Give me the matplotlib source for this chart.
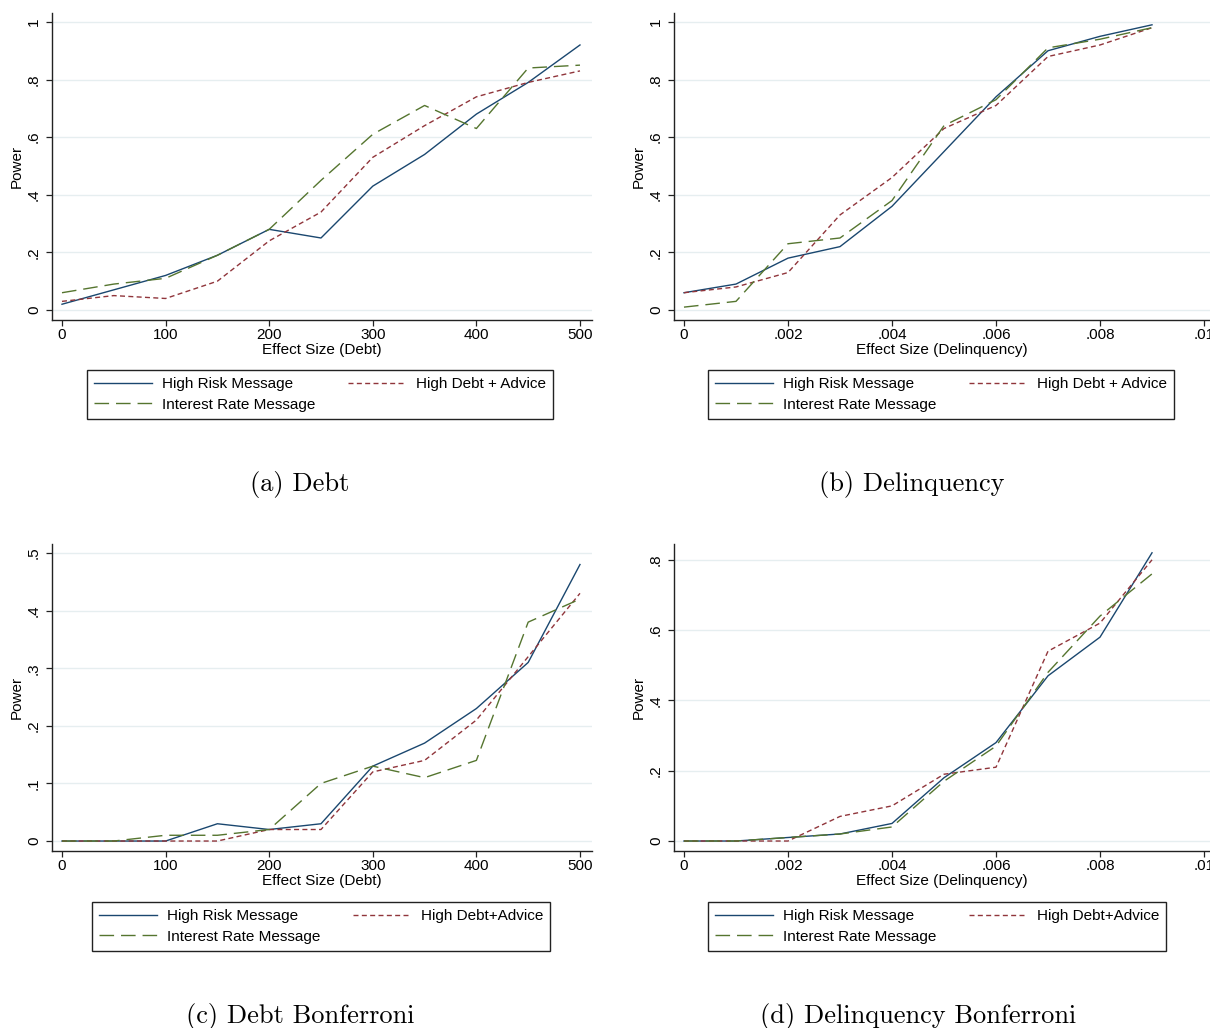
import matplotlib
matplotlib.use("Agg")
import matplotlib.pyplot as plt

# effect sizes
debt_x = [0, 50, 100, 150, 200, 250, 300, 350, 400, 450, 500]
delinq_x = [0, 0.001, 0.002, 0.003, 0.004, 0.005, 0.006, 0.007, 0.008, 0.009]

# (a) Debt
debt_risk = [0.02, 0.07, 0.12, 0.19, 0.28, 0.25, 0.43, 0.54, 0.68, 0.79, 0.92]
debt_advice = [0.03, 0.05, 0.04, 0.10, 0.24, 0.34, 0.53, 0.64, 0.74, 0.79, 0.83]
debt_rate = [0.06, 0.09, 0.11, 0.19, 0.28, 0.45, 0.61, 0.71, 0.63, 0.84, 0.85]

# (b) Delinquency
delinq_risk = [0.06, 0.09, 0.18, 0.22, 0.36, 0.55, 0.74, 0.90, 0.95, 0.99]
delinq_advice = [0.06, 0.08, 0.13, 0.33, 0.46, 0.63, 0.71, 0.88, 0.92, 0.98]
delinq_rate = [0.01, 0.03, 0.23, 0.25, 0.38, 0.64, 0.73, 0.91, 0.94, 0.98]

# (c) Debt Bonferroni
debtb_risk = [0, 0, 0, 0.03, 0.02, 0.03, 0.13, 0.17, 0.23, 0.31, 0.48]
debtb_advice = [0, 0, 0, 0, 0.02, 0.02, 0.12, 0.14, 0.21, 0.32, 0.43]
debtb_rate = [0, 0, 0.01, 0.01, 0.02, 0.10, 0.13, 0.11, 0.14, 0.38, 0.42]

# (d) Delinquency Bonferroni
delinqb_risk = [0, 0, 0.01, 0.02, 0.05, 0.18, 0.28, 0.47, 0.58, 0.82]
delinqb_advice = [0, 0, 0, 0.07, 0.10, 0.19, 0.21, 0.54, 0.62, 0.80]
delinqb_rate = [0, 0, 0.01, 0.02, 0.04, 0.17, 0.27, 0.48, 0.64, 0.76]

debt_ticks = [0, 100, 200, 300, 400, 500]
debt_ticklabels = ["0", "100", "200", "300", "400", "500"]
delinq_ticks = [0, 0.002, 0.004, 0.006, 0.008, 0.01]
delinq_ticklabels = ["0", ".002", ".004", ".006", ".008", ".01"]

captions = ["(a) Debt", "(b) Delinquency", "(c) Debt Bonferroni", "(d) Delinquency Bonferroni"]

plt.rcParams['font.family'] = ['Liberation Sans', 'DejaVu Sans']

BLUE = "#1a476f"
RED = "#90353b"
GREEN = "#55752f"
W, H = 1210, 1028
FS = 11

fig = plt.figure(figsize=(W / 100, H / 100), dpi=100)
fig.patch.set_facecolor("white")


def panel(rect_px, x, risk, advice, rate, xlim, ylim, yticks, yticklabels,
          xticks, xticklabels, xlabel, leg_px, advice_label, caption, cap_xy):
    l, t, r, b = rect_px
    ax = fig.add_axes([l / W, 1 - b / H, (r - l) / W, (b - t) / H])
    ax.plot(x, risk, color=BLUE, lw=1.0, label="High Risk Message")
    ax.plot(x, advice, color=RED, lw=1.0, dashes=(3.6, 2.4), label=advice_label)
    ax.plot(x, rate, color=GREEN, lw=1.0, dashes=(10.5, 5), label="Interest Rate Message")
    ax.set_xlim(*xlim)
    ax.set_ylim(*ylim)
    ax.set_yticks(yticks)
    ax.set_yticklabels(yticklabels, rotation=90, va="center")
    ax.set_xticks(xticks)
    ax.set_xticklabels(xticklabels)
    for yv in yticks:
        ax.axhline(yv, color="#e6eef0", lw=1.0, zorder=0)
    for s in ["top", "right"]:
        ax.spines[s].set_visible(False)
    for s in ["left", "bottom"]:
        ax.spines[s].set_color("#222222")
        ax.spines[s].set_linewidth(1.0)
    ax.tick_params(axis="both", length=4.5, width=0.9, color="#222222", labelsize=FS)
    ax.tick_params(axis="x", pad=1.5)
    ax.tick_params(axis="y", pad=3.5)
    ax.set_xlabel(xlabel, fontsize=FS, labelpad=0.5)
    ax.set_ylabel("Power", fontsize=FS, labelpad=2)

    h, lab = ax.get_legend_handles_labels()
    order = [0, 2, 1]
    lg = fig.legend([h[i] for i in order], [lab[i] for i in order], ncol=2,
                    loc="upper left", bbox_to_anchor=(leg_px[0] / W, 1 - leg_px[1] / H),
                    bbox_transform=fig.transFigure, borderaxespad=0,
                    fontsize=FS, handlelength=3.8, handletextpad=0.65,
                    columnspacing=2.15, labelspacing=0.45, borderpad=0.45,
                    fancybox=False, framealpha=1, edgecolor="#222222")
    lg.get_frame().set_linewidth(1.0)

    fig.text(cap_xy[0] / W, 1 - cap_xy[1] / H, caption, fontfamily="cmr10",
             fontsize=19, ha="center", va="center")
    return ax


panel((52, 13, 592, 320), debt_x, debt_risk, debt_advice, debt_rate,
      (-9.65, 511.6), (-0.0347, 1.031), [0, 0.2, 0.4, 0.6, 0.8, 1.0],
      ["0", ".2", ".4", ".6", ".8", "1"], debt_ticks, debt_ticklabels,
      "Effect Size (Debt)", (87, 370), "High Debt + Advice", captions[0], (300, 485))

panel((674, 13, 1210, 320), delinq_x, delinq_risk, delinq_advice, delinq_rate,
      (-0.000192, 0.010115), (-0.0347, 1.031), [0, 0.2, 0.4, 0.6, 0.8, 1.0],
      ["0", ".2", ".4", ".6", ".8", "1"], delinq_ticks, delinq_ticklabels,
      "Effect Size (Delinquency)", (708, 370), "High Debt + Advice", captions[1], (912, 485))

panel((52, 544, 592, 851), debt_x, debtb_risk, debtb_advice, debtb_rate,
      (-9.65, 511.6), (-0.0173, 0.5156), [0, 0.1, 0.2, 0.3, 0.4, 0.5],
      ["0", ".1", ".2", ".3", ".4", ".5"], debt_ticks, debt_ticklabels,
      "Effect Size (Debt)", (92, 902), "High Debt+Advice", captions[2], (300, 1016))

panel((674, 544, 1210, 851), delinq_x, delinqb_risk, delinqb_advice, delinqb_rate,
      (-0.000192, 0.010115), (-0.0284, 0.845), [0, 0.2, 0.4, 0.6, 0.8],
      ["0", ".2", ".4", ".6", ".8"], delinq_ticks, delinq_ticklabels,
      "Effect Size (Delinquency)", (708, 902), "High Debt+Advice", captions[3], (918, 1016))

fig.savefig("out.png", dpi=100, facecolor="white")
